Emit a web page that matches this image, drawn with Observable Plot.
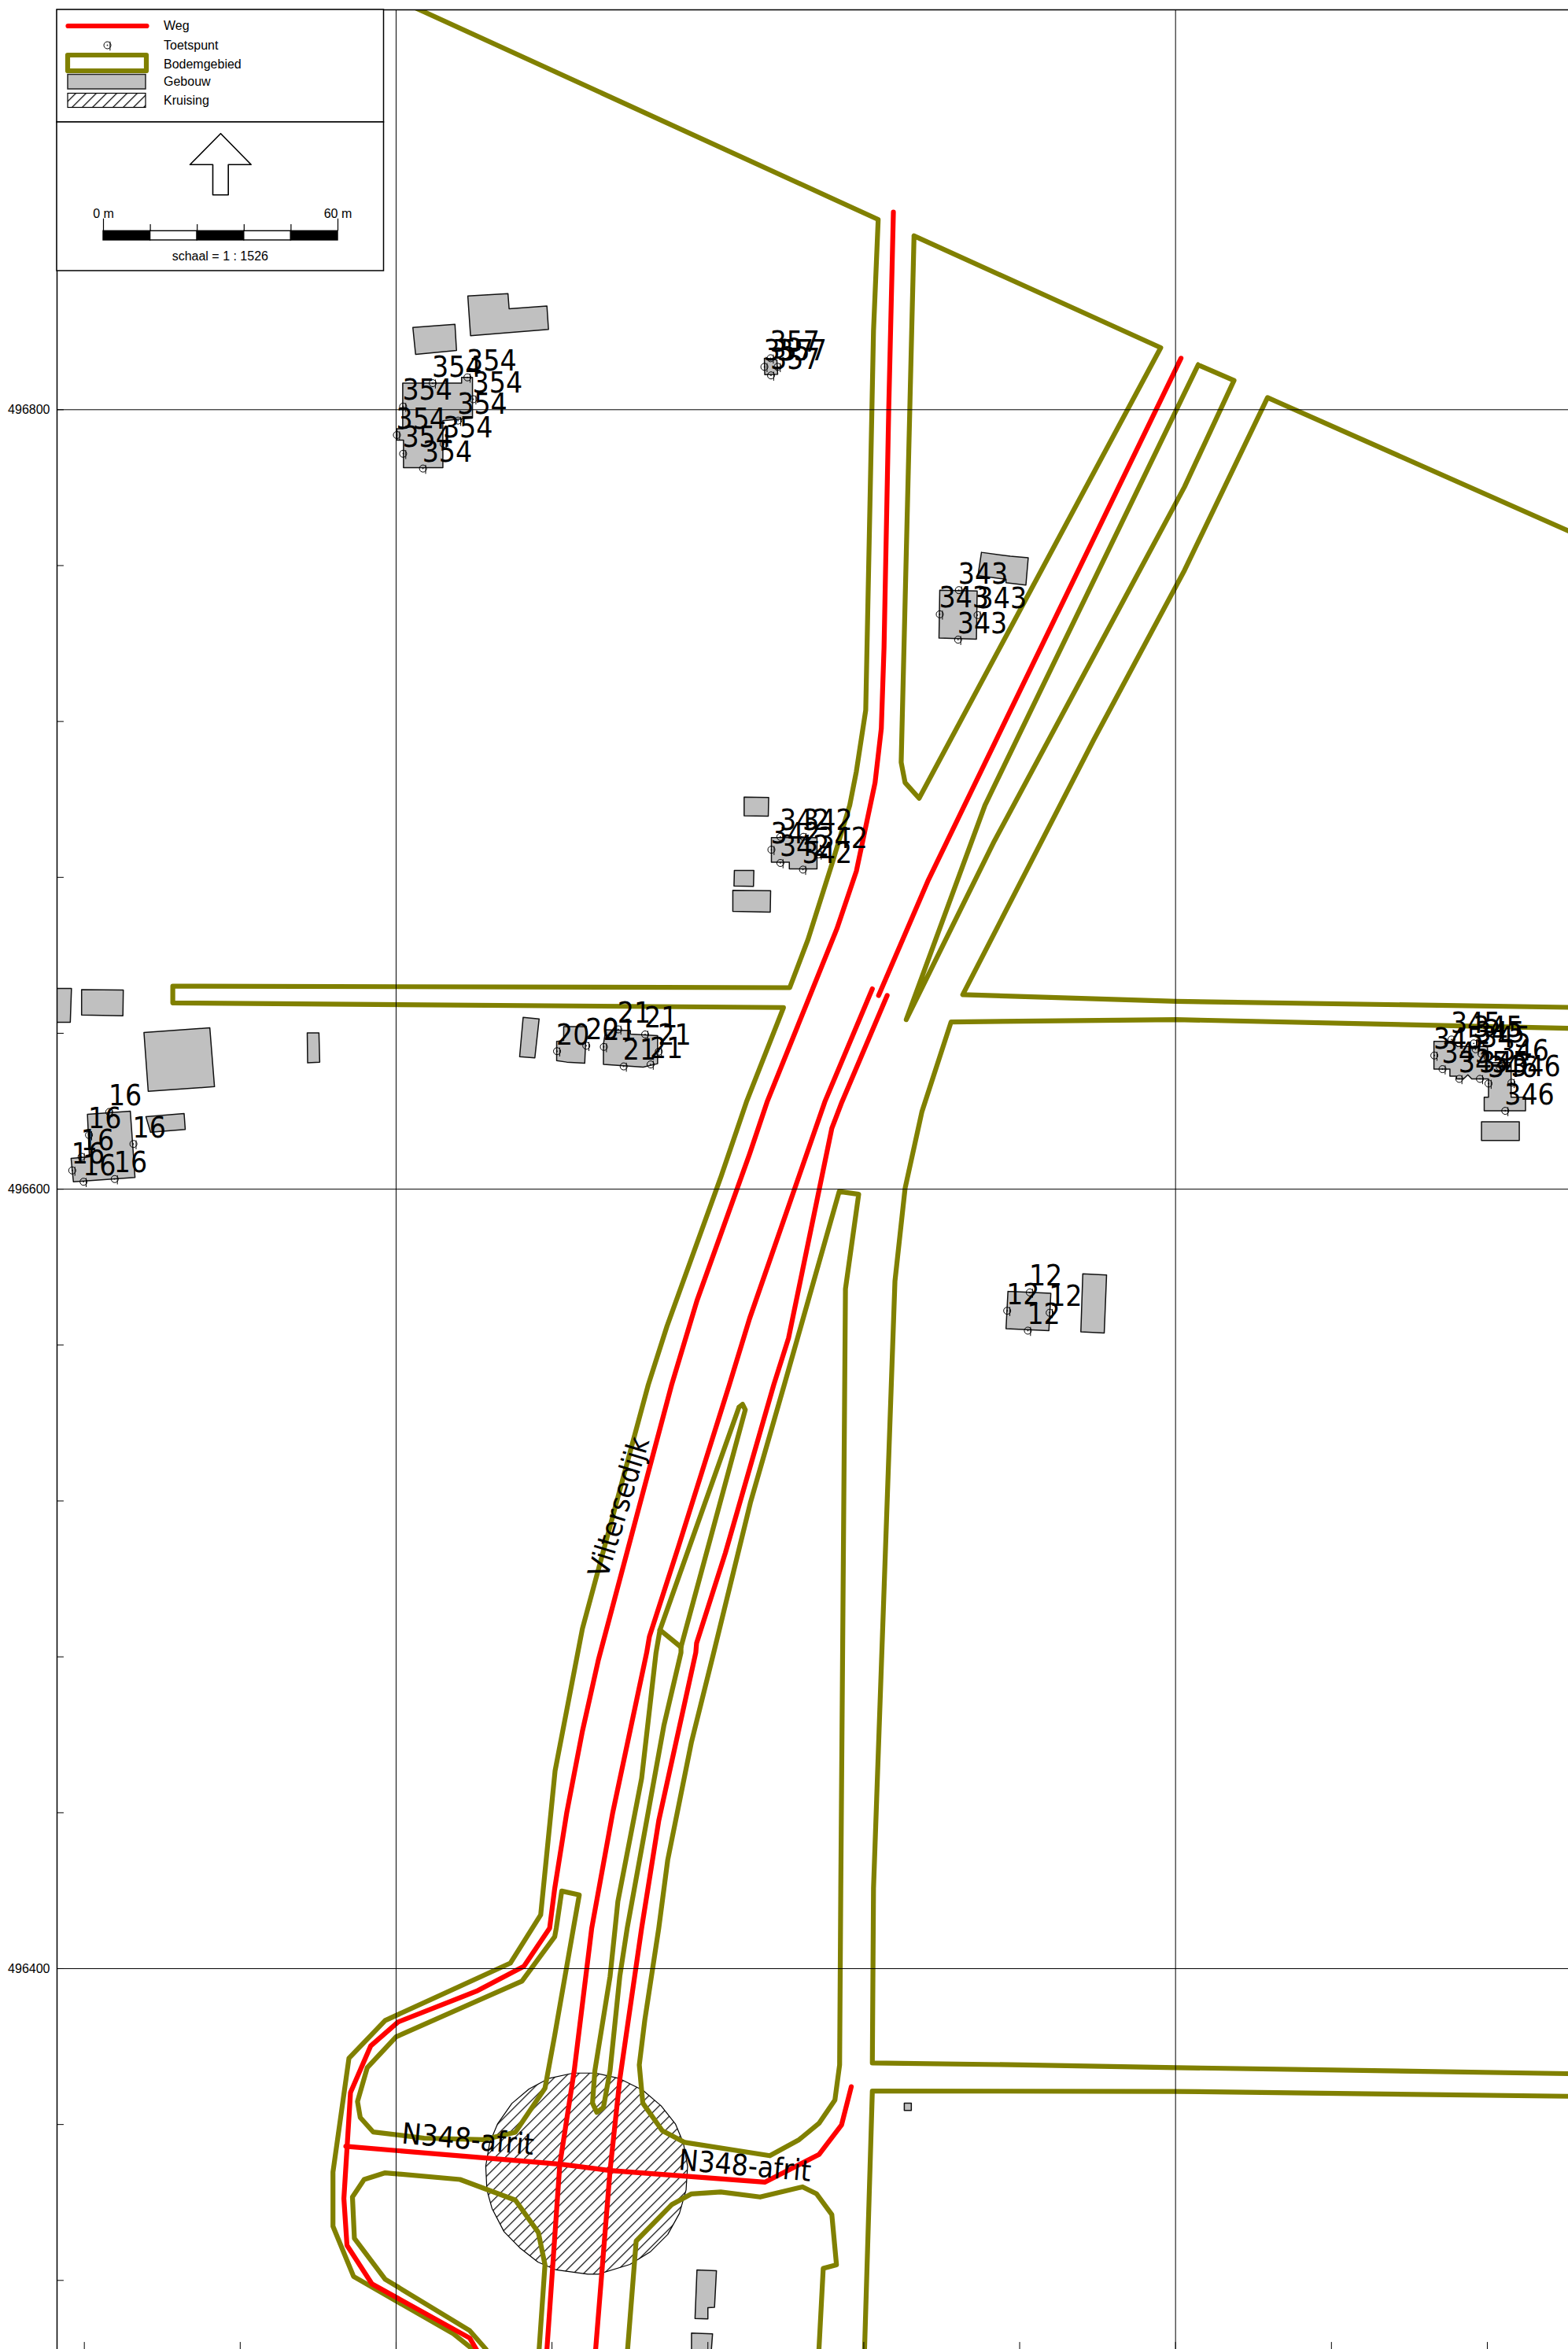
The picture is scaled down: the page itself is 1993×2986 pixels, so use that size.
<!DOCTYPE html>
<html><head><meta charset="utf-8">
<script src="https://cdn.jsdelivr.net/npm/d3@7"></script>
<script src="https://cdn.jsdelivr.net/npm/@observablehq/plot@0.6"></script>
<style>
html,body{margin:0;padding:0;background:#fff;overflow:hidden}
#wrap{position:relative;width:1993px;height:2986px}
#wrap svg{position:absolute;display:block;max-width:none}
</style></head><body><div id="wrap"></div>
<script>
// All map values: [east, north] in metres (east relative to grid line, north above 496000)
const northLabels = [400, 600, 800];
const eastGrid = [0, 200];
const northTicks = [320,360,400,440,480,520,560,600,640,680,720,760,800,840,880];
const eastTicks = [-80,-40,0,40,80,120,160,200,240,280];

const bodemTop = [[3,904],[123.7,848.8],[122.5,820.2],[120.5,722.9],[118.1,707.2],[116.4,698.5],[111.7,683],[105.7,664.1],[101,651.7],[-57.3,652.1],[-57.3,647.8],[99.4,646.6],[89.9,622.4],[83.4,603.3],[69.5,564.8],[64.7,549.8],[47.8,487.2],[40.8,450.8],[37.1,413.8],[29.3,401.4],[-2.8,386.7],[-12.1,377],[-16.2,347.8],[-16.2,333.9],[-10.9,321],[14.7,306.3],[19.7,302.3],[23,299]];
const bodemLoop = [[42.5,419.9],[41.1,410.4],[40.7,408.2],[32.3,396.8],[0,382.5],[-7.4,374.6],[-9.9,365.9],[-9.2,361.8],[-5.9,358.1],[7.2,356.5],[22.3,356.1],[30.6,358],[38.2,369.3],[40.7,382.9],[45.5,410.4],[47,418.9],[42.5,419.9]];
const bodemSouthWest = [[36.2,298],[36.7,302.3],[38.2,324],[36.5,332.3],[30.6,340.6],[16.4,345.9],[-2.8,347.6],[-8.2,345.9],[-11.2,341.4],[-10.7,330.8],[-2.8,320.3],[18.9,307.1],[23.1,302.3],[25,298]];
const bodemEast = [[113.7,599.4],[118.7,598.7],[115.3,574.4],[114.1,420.6],[113.8,375.3],[112.6,366.3],[108.5,360.3],[103.4,356.1],[95.9,352],[74.1,355.4],[68.3,358.4],[63.3,365.5],[62.4,375.3],[63.8,386.7],[67.4,410.4],[69.7,427.9],[75.8,458.2],[81.5,481.1],[90.9,519.5],[99.6,549.8],[113.7,599.4]];
const bodemWedge = [[88,544.1],[67.7,486.9],[66.7,481.1],[63,448.8],[56.9,417.2],[56.2,410.4],[54.9,398],[51,373.8],[50.4,365.5],[51.5,363.1],[53.2,364.4],[54.9,373.8],[57.4,398],[59.3,410.4],[68.7,462.3],[73.1,481.1],[73.1,482.5],[89.6,543.4],[88.9,544.8],[88,544.1]];
const bodemWedgeLink = [[67.7,486.9],[73.1,482.5]];
const bodemNorth = [[132.9,844.6],[196.2,815.9],[134.2,700.3],[130.6,704.3],[129.6,709.5],[132.3,820.2],[132.9,844.6]];
const bodemMedian = [[205.8,811.5],[215,807.5],[202.3,780.2],[153.5,689.3],[130.9,643.5],[151.1,698.5],[205.8,811.5]];
const bodemNorthEast = [[304,767.5],[223.6,803.1],[202.3,758.8],[179,715.3],[145.4,649.9],[200.2,648.2],[304,646.6]];
const bodemEastRoad = [[304,641.2],[200.2,643.5],[142.4,642.9],[134.9,619.8],[130.6,600.2],[128,576.4],[122.5,420.6],[122.2,375.8],[160.8,375.3],[200.2,374.6],[304,373]];
const bodemSouthEast = [[304,367.2],[200.2,368.5],[122.2,368.6],[120.2,302.3],[120,298]];
const bodemSouth = [[59.2,298],[59.4,302.3],[61.6,330.1],[70.8,339.5],[75.8,342.2],[83.3,342.7],[93.4,341.4],[104.3,344],[107.9,342.2],[111.8,336.9],[113,324],[109.6,323.1],[108.5,302.3],[108.4,298]];

const wegWest = [[127.6,850.7],[126.4,799.9],[125.2,739],[124.5,718.2],[122.9,704.3],[118.1,681.6],[113.1,666.8],[95.2,622.4],[90.7,609],[77.2,571.4],[70.7,549.8],[51.9,479.2],[47.8,460.9],[43.8,440.1],[40.7,420.6],[39.4,410.4],[32.8,400.6],[20.6,394.2],[0.5,386.3],[-6.5,380.2],[-11.7,368.2],[-13.4,341],[-12.6,329],[-6.2,319.1],[18.9,305.2],[20.6,302.3],[23,299]];
const wegNorth = [[201.4,813.2],[136.6,679.4],[123.8,649.7]];
const wegMiddle = [[122.2,651.4],[110,622.4],[90.7,566.8],[85.5,549.8],[72.4,508.1],[65,485.2],[64.3,481.1],[55.6,440.1],[50.2,410.4],[45.7,373.8],[42,349.7],[38.7,302.3],[38.4,298]];
const wegEast = [[126,649.7],[114.4,622.4],[111.8,615.6],[100.7,561.8],[96.9,549.8],[84.5,506.7],[77.1,483.5],[76.9,481.1],[67.4,438],[63,410.4],[57.4,371.6],[54.9,348.2],[51.2,302.3],[50.8,298]];
const wegAfrit = [[-12.9,354.4],[42.3,349.8],[54.9,348.2],[94.6,345.2],[108.5,352.3],[114.3,359.9],[116.8,369.7]];

const kruising = [[45.5,373.2],[51.2,373.2],[57.3,371.8],[63.3,368.8],[68,364.8],[71.7,360.1],[73.7,355.3],[74.8,349.3],[74.4,343.2],[72.7,337.2],[69.7,331.8],[65.3,327.4],[60,324.1],[51.9,321.6],[49.2,321.6],[41.1,322.7],[36.4,324.7],[31.7,328.4],[27.7,332.5],[24.6,338.5],[23.3,343.2],[23,349.3],[24,355.3],[26,360.1],[29.7,365.4],[34.1,369.1],[39.1,371.8],[45.5,373.2]];

const gebouwen = [
 [[4.3,821.1],[15.1,821.9],[15.5,815.2],[5,814.2]],
 [[18.4,829.2],[28.7,829.8],[29,825.9],[38.7,826.6],[39.1,820.6],[19.1,819]],
 [[1.7,806.8],[16.8,806.8],[16.8,808.3],[19.6,808.3],[19.6,797.9],[12,797.2],[12,785.1],[1.9,785.1],[1.9,792.2],[0.2,792.2],[0.2,795.1],[1.7,795.1]],
 [[94.5,813.2],[97.7,812.8],[97.9,809.1],[94.6,809]],
 [[150.2,763.4],[157.6,762.4],[162.2,762],[161.6,755],[156.5,755.6],[156.5,756.5],[149.3,757.4]],
 [[139.5,753.7],[149.1,753.5],[148.9,741.1],[139.3,741.4]],
 [[89.3,700.6],[95.6,700.5],[95.5,695.7],[89.3,695.8]],
 [[86.8,681.8],[91.8,681.8],[91.7,677.7],[86.7,677.8]],
 [[86.4,676.7],[96.1,676.6],[96,671.1],[86.4,671.3]],
 [[96.3,690.2],[108,690.2],[108,682.2],[100.9,682.2],[100.9,683.9],[96.3,683.9]],
 [[-90,651.5],[-83.3,651.5],[-83.6,642.8],[-90,642.8]],
 [[-80.7,651.2],[-70,651.1],[-70.1,644.5],[-80.7,644.7]],
 [[-64.7,640.2],[-47.8,641.4],[-46.6,626.3],[-63.6,625.1]],
 [[-22.8,640.1],[-19.8,640.1],[-19.6,632.6],[-22.7,632.4]],
 [[32.6,644.1],[36.7,643.7],[35.6,633.7],[31.7,634]],
 [[41.2,637.9],[43,638.2],[43,641.7],[48.8,641.7],[48.4,632.3],[43.8,632.6],[41.2,633]],
 [[53.2,637.2],[53.8,640.9],[60.1,640.7],[60.1,639.8],[67.1,639.4],[67.1,632.2],[63.4,631.3],[53.2,632]],
 [[-79.2,619.2],[-68.2,620],[-67,603],[-82.8,601.9],[-83.4,607.9],[-78.7,608.3]],
 [[-64.2,618.6],[-54.4,619.4],[-54.1,615.3],[-63,614.6]],
 [[157,573.8],[168,573.3],[167.5,563.7],[156.5,564.2]],
 [[176.2,578.3],[182.3,578],[181.7,563.1],[175.7,563.4]],
 [[266.3,637.9],[271.3,637.9],[272.3,636.6],[280,636.6],[280.3,632.5],[286.1,632.5],[286.1,623.6],[289.8,623.6],[289.8,620.1],[279.2,620.1],[279.2,623.6],[280.3,623.6],[280.3,628.3],[276,628.3],[275,629.35],[273.9,628.3],[272.1,628.3],[272.1,629],[270.4,629],[270.4,630.8],[266.3,630.8]],
 [[278.5,617.3],[288.2,617.3],[288.2,612.5],[278.5,612.5]],
 [[77.2,322.7],[82.2,322.5],[81.7,313.1],[80,313],[80,310.1],[76.7,310.2]],
 [[75.8,306.5],[81.2,306.3],[80.5,296.9],[75.8,297]],
 [[130.4,365.5],[132.2,365.5],[132.2,363.6],[130.4,363.6]]
];

const punten354 = [[18.3,808.3],[9.4,806.8],[19.8,802.7],[1.8,800.8],[15.9,797.2],[0.2,793.5],[12.2,791.2],[1.8,788.7],[6.9,784.9]];
const punten357 = [[96.1,813.2],[94.5,811],[97.9,811],[96.2,808.8]];
const punten343 = [[144.4,753.7],[139.5,747.5],[149.2,747.3],[144.2,741]];
const punten342 = [[98.6,690.4],[104.5,690.4],[96.3,687.1],[98.6,683.7],[104.4,682],[108.4,685.9]];
const punten345 = [[270.8,638.4],[276.5,637.4],[266.4,634.3],[268.5,630.8],[272.8,628.3],[278.1,628.3],[278.5,634.7],[277,635.9]];
const punten346 = [[280.3,627.1],[286.2,627.3],[284.6,620.1],[283.2,631.3]];
const punten20 = [[41.3,635.4],[48.8,636.8]];
const punten21 = [[53.3,636.5],[57,641],[63.9,639.7],[58.4,631.5],[65.3,632],[67.4,635.3]];
const punten16 = [[-73.6,619.8],[-78.8,613.9],[-67.4,611.6],[-80.7,608.3],[-83.1,604.8],[-80.2,601.9],[-72.2,602.6]];
const punten12 = [[162.6,573.5],[156.8,568.8],[167.7,568.3],[162.1,563.7]];

const naamLabels = ["Viltersedijk","N348-afrit","N348-afrit"];
const naamPos = [[57.3,518.4],[18.4,356.1],[89.5,349.3]];
const naamRot = [-73,5,5];

const legendItems = ["Weg","Toetspunt","Bodemgebied","Gebouw","Kruising"];
const scaleSegments = [0,12,24,36,48,60];
const schaalTekst = "schaal = 1 : 1526";

// ---- derived tables
const OLIVE = "#808000", RED = "#ff0000", GREY = "#c0c0c0";
const FRAME = {left:72, top:12};
const xDom = [-87.0, 300.8], yDom = [302.3, 902.6];
const toRows = (arrs) => arrs.flatMap((a,i)=>a.map(p=>({e:p[0],n:p[1],id:i})));
const bodem = toRows([bodemTop,bodemLoop,bodemSouthWest,bodemEast,bodemWedge,bodemWedgeLink,bodemNorth,bodemMedian,bodemNorthEast,bodemEastRoad,bodemSouthEast,bodemSouth]);
const wegen = toRows([wegWest,wegNorth,wegMiddle,wegEast,wegAfrit]);
const huizen = toRows(gebouwen.map(g=>[...g,g[0]]));
const krs = toRows([kruising]);
const punten = [["354",punten354],["357",punten357],["343",punten343],["342",punten342],["345",punten345],["346",punten346],["20",punten20],["21",punten21],["16",punten16],["12",punten12]]
  .flatMap(([label,pts])=>pts.map(p=>({e:p[0],n:p[1],label})));
const namen = naamLabels.map((t,i)=>({t,e:naamPos[i][0],n:naamPos[i][1],r:naamRot[i]}));

const toetsSymbol = {draw(c,size){
  const r=Math.sqrt(size/Math.PI);
  c.moveTo(r,0); c.arc(0,0,r,0,2*Math.PI);
  c.moveTo(r*.75,-r*1.05); c.lineTo(r*.75,r*1.5);
  c.moveTo(.5,0); c.arc(0,0,.5,0,2*Math.PI);
}};
const labelFont = "'DejaVu Sans Condensed','DejaVu Sans',sans-serif";
const axisFont = "'Liberation Sans',Arial,sans-serif";

const main = Plot.plot({
  width:1993, height:2986,
  marginLeft:FRAME.left, marginTop:FRAME.top, marginRight:0, marginBottom:0,
  x:{domain:xDom, axis:null},
  y:{domain:yDom, axis:null},
  style:{background:"#fff"},
  marks:[
    Plot.line(huizen,{x:"e",y:"n",z:"id",fill:GREY,stroke:"#111",strokeWidth:1.5,clip:true}),
    Plot.line(krs,{x:"e",y:"n",fill:"url(#hatch)",stroke:"#000",strokeWidth:1.2}),
    Plot.line(bodem,{x:"e",y:"n",z:"id",stroke:OLIVE,strokeWidth:6.2,strokeLinejoin:"round",strokeLinecap:"round",clip:true}),
    Plot.line(wegen,{x:"e",y:"n",z:"id",stroke:RED,strokeWidth:6.2,strokeLinejoin:"round",strokeLinecap:"round",clip:true}),
    Plot.ruleY(northLabels,{stroke:"#000",strokeWidth:1}),
    Plot.ruleX(eastGrid,{stroke:"#000",strokeWidth:1}),
    Plot.ruleY(northTicks,{x1:xDom[0],x2:xDom[0]+1.8,stroke:"#000",strokeWidth:1}),
    Plot.ruleX(eastTicks,{y1:yDom[0],y2:yDom[0]+1.8,stroke:"#000",strokeWidth:1}),
    Plot.ruleX([xDom[0]],{stroke:"#000",strokeWidth:1.5}),
    Plot.ruleY([yDom[1]],{stroke:"#000",strokeWidth:1.5}),
    Plot.axisY(northLabels,{anchor:"left",tickSize:0,tickPadding:9,tickFormat:d=>String(496000+d),fontSize:16,fontFamily:axisFont,label:null,fill:"#000"}),
    Plot.dot(punten,{x:"e",y:"n",symbol:toetsSymbol,r:4.5,fill:"none",stroke:"#000",strokeWidth:1}),
    Plot.text(punten,{x:"e",y:"n",text:"label",textAnchor:"start",lineAnchor:"bottom",dx:-1,dy:-8.5,fontSize:37,fontFamily:labelFont,fill:"#000"}),
    Plot.text(namen,{x:"e",y:"n",text:"t",rotate:"r",textAnchor:"middle",lineAnchor:"middle",fontSize:37,fontFamily:labelFont,fill:"#000"})
  ]
});
main.style.left="0";main.style.top="0";
main.insertAdjacentHTML("afterbegin",
 '<defs><pattern id="hatch" width="9.2" height="9.2" patternUnits="userSpaceOnUse" patternTransform="rotate(45)"><rect width="9.2" height="9.2" fill="#fff"/><line x1="0" y1="0" x2="0" y2="9.2" stroke="#000" stroke-width="2.4"/></pattern></defs>');

// ---- legend, north arrow and scale bar
const barX = m => 59 + m*298/60;
const segs = scaleSegments.slice(0,-1).map((m,i)=>({x1:barX(m),x2:barX(scaleSegments[i+1]),c:i%2?"#fff":"#000"}));
const scaleTicks = scaleSegments.map((m,i)=>({x:barX(m),y1:(i===0||i===5)?265.7:273,y2:281.3}));
const arrow = [[208,157.3],[169,196.7],[198,196.7],[198,235.3],[217.7,235.3],[217.7,196.7],[246.7,196.7],[208,157.3]].map(p=>({x:p[0],y:p[1]}));
const legendRowY = [20.7,45,69,91.7,115.7];
const legend = Plot.plot({
  width:418,height:334,margin:0,
  x:{domain:[0,418],range:[0,418],axis:null},
  y:{domain:[0,334],range:[0,334],axis:null},
  style:{background:"transparent",overflow:"visible"},
  marks:[
    Plot.rect([{x1:0,x2:415.5,y1:0,y2:143},{x1:0,x2:415.5,y1:143,y2:332}],{x1:"x1",x2:"x2",y1:"y1",y2:"y2",fill:"#fff",stroke:"#000",strokeWidth:1.5}),
    Plot.line([{x:14,y:20.5},{x:114,y:20.5}],{x:"x",y:"y",stroke:RED,strokeWidth:6.2,strokeLinecap:"round"}),
    Plot.dot([{x:64,y:45}],{x:"x",y:"y",symbol:toetsSymbol,r:4.5,fill:"none",stroke:"#000",strokeWidth:1}),
    Plot.rect([{x1:14,x2:114,y1:58,y2:78}],{x1:"x1",x2:"x2",y1:"y1",y2:"y2",fill:"#fff",stroke:OLIVE,strokeWidth:6.2,strokeLinejoin:"round"}),
    Plot.rect([{x1:14,x2:113,y1:82.5,y2:101}],{x1:"x1",x2:"x2",y1:"y1",y2:"y2",fill:GREY,stroke:"#222",strokeWidth:1.5}),
    Plot.rect([{x1:14,x2:113,y1:106.5,y2:124.5}],{x1:"x1",x2:"x2",y1:"y1",y2:"y2",fill:"url(#hatch)",stroke:"#000",strokeWidth:1.2}),
    Plot.text(legendItems,{x:()=>135.5,y:(d,i)=>legendRowY[i],text:d=>d,textAnchor:"start",lineAnchor:"middle",fontSize:16,fontFamily:axisFont,fill:"#000"}),
    Plot.line(arrow,{x:"x",y:"y",fill:"#fff",stroke:"#000",strokeWidth:1.6}),
    Plot.rect(segs,{x1:"x1",x2:"x2",y1:()=>281.3,y2:()=>293,fill:"c",stroke:"#000",strokeWidth:1.4}),
    Plot.ruleX(scaleTicks,{x:"x",y1:"y1",y2:"y2",stroke:"#000",strokeWidth:1.2}),
    Plot.text([{t:"0 m",x:59},{t:"60 m",x:357}],{x:"x",y:()=>259.7,text:"t",textAnchor:"middle",lineAnchor:"middle",fontSize:16,fontFamily:axisFont,fill:"#000"}),
    Plot.text([schaalTekst],{x:()=>207.3,y:()=>313.7,text:d=>d,textAnchor:"middle",lineAnchor:"middle",fontSize:16,fontFamily:axisFont,fill:"#000"})
  ]
});
legend.style.left=FRAME.left+"px";legend.style.top=FRAME.top+"px";
const wrap=document.getElementById("wrap");
wrap.appendChild(main);wrap.appendChild(legend);
</script></body></html>
